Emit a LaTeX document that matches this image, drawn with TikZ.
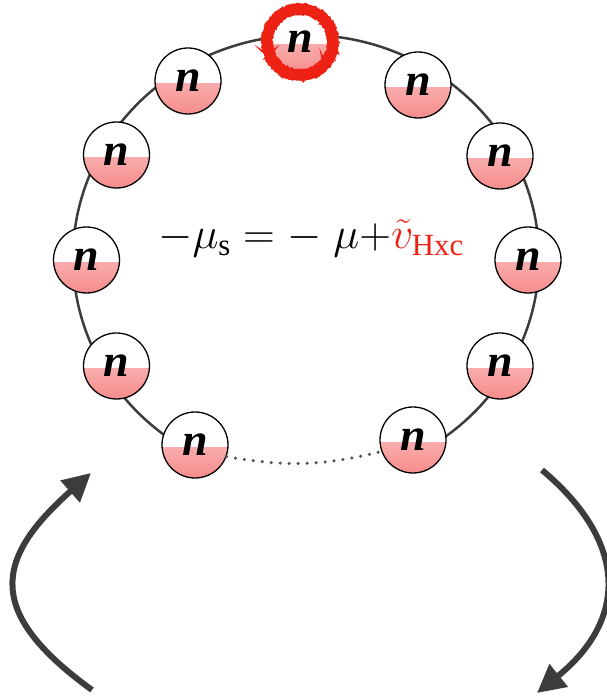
\RequirePackage{fix-cm}
\documentclass[tikz,border=0pt]{standalone}
\usepackage{fontspec}
\setmainfont{Liberation Serif}
\usetikzlibrary{arrows.meta,decorations.pathmorphing}
\definecolor{ringgray}{RGB}{60,60,60}
\definecolor{dotgray}{RGB}{85,85,85}
\definecolor{pinktop}{RGB}{252,208,208}
\definecolor{pinkbot}{RGB}{246,140,140}
\definecolor{myred}{RGB}{238,34,20}
\tikzset{
  ball/.style={circle, draw=black, line width=1.3pt, minimum size=66pt, inner sep=0pt,
    fill=white, text depth=0pt,
    font=\fontsize{46}{46}\selectfont\bfseries\itshape,
    path picture={\shade[top color=pinktop, bottom color=pinkbot]
      ([yshift=-3pt]path picture bounding box.west) rectangle (path picture bounding box.south east);}},
  ringline/.style={draw=ringgray, line width=2.5pt},
  dotline/.style={draw=dotgray, line width=3.5pt, dash pattern=on 0pt off 9pt, line cap=round},
  bigarrow/.style={draw=ringgray, line width=6pt, -{Triangle[length=28pt,width=28pt]}},
  redring/.style={draw=myred, line width=10pt},
  redfuzz/.style={draw=myred, line width=2.5pt, decorate, decoration={random steps, segment length=1pt, amplitude=0.8pt}}
}
\begin{document}
\begin{tikzpicture}[x=1pt,y=1pt]
\useasboundingbox (0,0) rectangle (607,697);
% ring
\coordinate (rc) at (306,439);
\draw[ringline] (rc) ++(240:233pt and 223pt) arc[start angle=240, end angle=-60, x radius=233pt, y radius=223pt];
% nodes
\node[ball] (T)  at (300,655) {n};
\node[ball] (R1) at (418,612) {n};
\node[ball] (R2) at (500,541) {n};
\node[ball] (R3) at (528,437) {n};
\node[ball] (R4) at (500,331) {n};
\node[ball] (R5) at (413,257) {n};
\node[ball] (L1) at (188,616) {n};
\node[ball] (L2) at (116.5,542) {n};
\node[ball] (L3) at (86.5,437) {n};
\node[ball] (L4) at (116.5,331) {n};
\node[ball] (L5) at (195,252) {n};
% highlighted top node
\draw[redring] (T.center) circle[radius=33pt];
\draw[redfuzz] (T.center) circle[radius=37.5pt];
\draw[redfuzz] (T.center) circle[radius=28.5pt];
% dotted gap
\draw[dotline] (L5.-20) to[bend right=12] (R5.200);
% formula
\node[anchor=base, inner sep=0pt, font=\fontsize{44}{44}\selectfont] (formula) at (311,448)
  {$-\mu_{\mathrm{s}} = -\;\mu{+}\textcolor{myred}{\tilde{v}_{\mathrm{Hxc}}}$};
% arrows
\coordinate (la0) at (92,7);
\coordinate (la1) at (91,224);
\draw[bigarrow] (la0) .. controls (-14,84) and (-7,137) .. (la1);
\coordinate (ra0) at (542,227);
\coordinate (ra1) at (537,4);
\draw[bigarrow] (ra0) .. controls (630,153) and (626,76) .. (ra1);
\end{tikzpicture}
\end{document}
